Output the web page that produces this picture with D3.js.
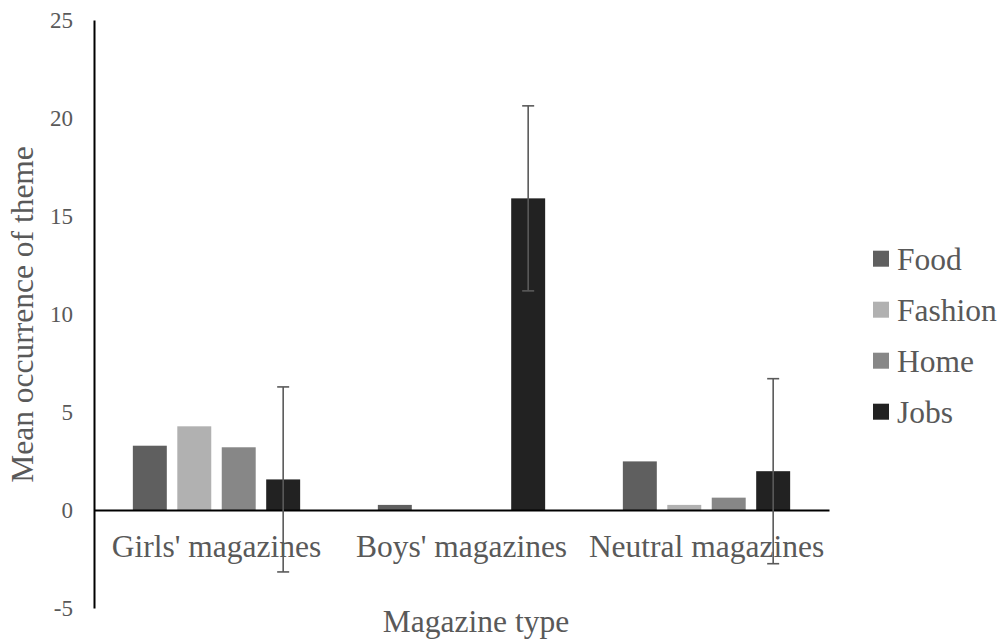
<!DOCTYPE html>
<html>
<head>
<meta charset="utf-8">
<script src="https://cdn.jsdelivr.net/npm/d3@7"></script>
</head>
<body style="margin:0;background:#fff">
<svg id="chart" width="1002" height="641"></svg>
<script>
const categories = ["Girls' magazines", "Boys' magazines", "Neutral magazines"];
const seriesNames = ["Food", "Fashion", "Home", "Jobs"];
const food    = [3.28, 0.26, 2.48];
const fashion = [4.27, 0.00, 0.26];
const home    = [3.20, 0.00, 0.63];
const jobs    = [1.56, 15.9, 1.98];
const jobsError = [4.72, 4.72, 4.72];
const yTicks = [-5, 0, 5, 10, 15, 20, 25];
const colors = ["#5f5f5f", "#b1b1b1", "#878787", "#222222"];

const seriesValues = [food, fashion, home, jobs];
const FONT = "Liberation Serif";
const TXT = "#595959";

const svg = d3.select("#chart");
const plotLeft = 94, plotRight = 829, plotTop = 20, plotBottom = 608;

const y = d3.scaleLinear().domain([-5, 25]).range([plotBottom, plotTop]);
const x0 = d3.scaleBand().domain(categories).range([plotLeft, plotRight]).padding(0);
const x1 = d3.scaleBand().domain(seriesNames).range([0, x0.bandwidth()])
  .paddingInner(0.236).paddingOuter(0.874);

// bars
const groups = svg.append("g").selectAll("g")
  .data(categories).join("g")
  .attr("transform", d => `translate(${x0(d)},0)`);

groups.selectAll("rect")
  .data((c, ci) => seriesNames.map((s, si) => ({ s, si, v: seriesValues[si][ci] })))
  .join("rect")
  .attr("x", d => x1(d.s))
  .attr("width", x1.bandwidth())
  .attr("y", d => Math.min(y(d.v), y(0)))
  .attr("height", d => Math.abs(y(d.v) - y(0)))
  .attr("fill", d => colors[d.si]);

// y axis
const yAxis = d3.axisLeft(y).tickValues(yTicks).tickSize(0).tickPadding(21)
  .tickFormat(d => String(d));
const ya = svg.append("g").attr("transform", `translate(${plotLeft},0)`).call(yAxis);
ya.attr("font-family", null).attr("font-size", null);
ya.select(".domain").attr("stroke", "#000").attr("stroke-width", 2);
ya.selectAll("text").style("font-size", "23px").style("fill", TXT)
  .style("font-family", FONT);

// zero line / x axis
const xAxis = d3.axisBottom(x0).tickSize(0).tickPadding(25);
const xa = svg.append("g").attr("transform", `translate(0,${y(0)})`).call(xAxis);
xa.attr("font-family", null).attr("font-size", null);
xa.select(".domain").attr("stroke", "#000").attr("stroke-width", 2);
xa.selectAll("text").style("font-size", "31.5px").style("fill", TXT)
  .style("font-family", FONT);

// error bars on Jobs
const eb = svg.append("g");
categories.forEach((c, i) => {
  const cx = x0(c) + x1("Jobs") + x1.bandwidth() / 2;
  const hi = y(jobs[i] + jobsError[i]);
  const lo = y(jobs[i] - jobsError[i]);
  eb.append("line").attr("x1", cx).attr("x2", cx).attr("y1", hi).attr("y2", lo)
    .attr("stroke", "#5a5a5a").attr("stroke-width", 1.6);
  [hi, lo].forEach(yy => eb.append("line").attr("x1", cx - 6).attr("x2", cx + 6)
    .attr("y1", yy).attr("y2", yy).attr("stroke", "#5a5a5a").attr("stroke-width", 1.6));
});

// axis titles
svg.append("text")
  .attr("transform", `translate(33,${(142 + 487) / 2}) rotate(-90)`)
  .attr("text-anchor", "middle")
  .style("font-family", FONT).style("fill", TXT)
  .style("font-size", "31.5px")
  .text("Mean occurrence of theme");

svg.append("text")
  .attr("x", 476).attr("y", 632)
  .attr("text-anchor", "middle")
  .style("font-family", FONT).style("fill", TXT)
  .style("font-size", "31.5px")
  .text("Magazine type");

// legend
const lg = svg.append("g").selectAll("g").data(seriesNames).join("g")
  .attr("transform", (d, i) => `translate(873,${258.7 + i * 51})`);
lg.append("rect").attr("x", 0).attr("y", -8).attr("width", 16).attr("height", 16)
  .attr("fill", (d, i) => colors[i]);
lg.append("text").attr("x", 24).attr("y", 0).attr("dy", "0.35em")
  .style("font-family", FONT).style("fill", TXT)
  .style("font-size", "31.5px").text(d => d);
</script>
</body>
</html>
